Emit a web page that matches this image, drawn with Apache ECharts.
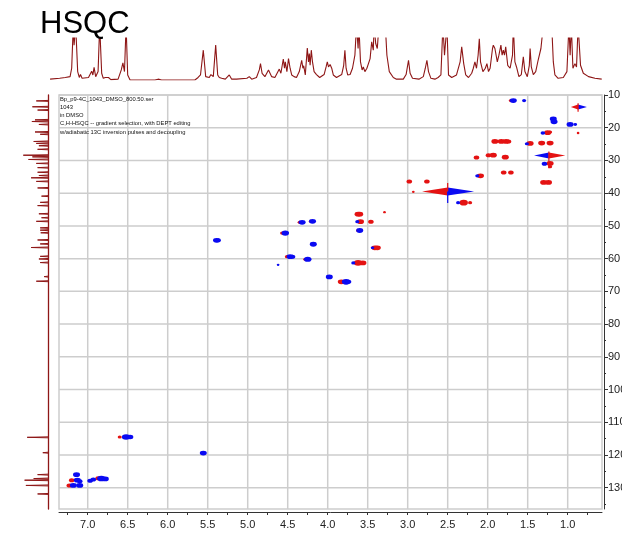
<!DOCTYPE html>
<html><head><meta charset="utf-8">
<script src="https://cdn.jsdelivr.net/npm/echarts@6/dist/echarts.min.js"></script>
<style>html,body{margin:0;padding:0;background:#fff}#c{width:622px;height:535px}</style>
</head><body><div id="c"></div>
<script>
// ---- tick labels ----
const hTickLabels = [1.0,1.5,2.0,2.5,3.0,3.5,4.0,4.5,5.0,5.5,6.0,6.5,7.0];
const hTicks = [0.75,1.0,1.25,1.5,1.75,2.0,2.25,2.5,2.75,3.0,3.25,3.5,3.75,4.0,4.25,4.5,4.75,5.0,5.25,5.5,5.75,6.0,6.25,6.5,6.75,7.0,7.25];
const cTickLabels = [10,20,30,40,50,60,70,80,90,100,110,120,130];
const cMinorTicks = [15,25,35,45,55,65,75,85,95,105,115,125,135];
const infoLines = ["Bp_p9-4C_1043_DMSO_800.50.ser","1043","in DMSO","C,H-HSQC -- gradient selection, with DEPT editing","w/adiabatic 13C inversion pulses and decoupling"];

// ---- 1H projection (ppm, intensity) ----
const topTrace = [[7.47,2],[7.35,4],[7.28,6],[7.22,8],[7.20,28],[7.18,130],[7.17,83],[7.15,130],[7.125,20],[7.105,6],[7.09,13],[7.07,4],[6.99,6],[6.95,21],[6.935,12],[6.92,30],[6.90,8],[6.87,20],[6.85,130],[6.825,16],[6.805,4],[6.78,6],[6.76,2],[6.74,6],[6.71,1],[6.62,2],[6.58,24],[6.56,41],[6.54,20],[6.52,130],[6.50,12],[6.47,0],[6.16,0],[6.12,2],[6.075,0],[5.66,0],[5.62,6],[5.59,12],[5.555,71],[5.525,8],[5.48,6],[5.46,13],[5.43,8],[5.40,83],[5.375,12],[5.355,6],[5.325,4],[5.28,2],[5.23,12],[5.20,2],[5.14,2],[5.01,4],[4.98,8],[4.95,2],[4.89,6],[4.855,24],[4.84,39],[4.82,16],[4.785,8],[4.74,24],[4.70,8],[4.66,6],[4.605,26],[4.585,16],[4.555,50],[4.54,28],[4.53,43],[4.51,20],[4.49,51],[4.47,28],[4.45,12],[4.42,8],[4.39,6],[4.355,20],[4.325,47],[4.31,28],[4.30,34],[4.28,12],[4.255,76],[4.24,43],[4.23,63],[4.22,35],[4.205,71],[4.19,43],[4.17,20],[4.14,13],[4.10,6],[4.045,13],[4.02,31],[4.005,43],[3.99,31],[3.97,37],[3.95,28],[3.93,12],[3.89,6],[3.825,13],[3.80,35],[3.785,71],[3.77,28],[3.75,12],[3.72,13],[3.69,28],[3.66,59],[3.64,130],[3.62,75],[3.61,130],[3.59,43],[3.57,24],[3.555,31],[3.535,20],[3.51,28],[3.49,24],[3.47,51],[3.45,91],[3.43,71],[3.42,130],[3.40,87],[3.38,75],[3.36,130],[3.28,130],[3.26,59],[3.23,20],[3.18,6],[3.14,2],[3.055,2],[3.02,13],[2.99,47],[2.97,16],[2.94,4],[2.86,2],[2.805,8],[2.78,28],[2.76,47],[2.74,20],[2.71,4],[2.66,2],[2.62,6],[2.585,12],[2.56,130],[2.54,59],[2.51,130],[2.49,12],[2.45,6],[2.39,12],[2.345,43],[2.325,79],[2.30,39],[2.275,12],[2.24,6],[2.20,16],[2.18,28],[2.16,43],[2.14,28],[2.12,59],[2.105,98],[2.09,43],[2.06,20],[2.03,28],[2.01,39],[1.99,20],[1.97,28],[1.94,75],[1.93,83],[1.91,75],[1.88,43],[1.86,59],[1.835,83],[1.82,59],[1.805,71],[1.79,59],[1.775,79],[1.75,35],[1.72,28],[1.69,59],[1.68,130],[1.66,43],[1.64,31],[1.61,8],[1.58,13],[1.555,55],[1.535,20],[1.505,8],[1.48,35],[1.47,75],[1.455,31],[1.43,13],[1.40,20],[1.37,47],[1.335,75],[1.305,130],[1.20,130],[1.18,43],[1.16,12],[1.12,4],[1.055,6],[1.01,20],[0.985,130],[0.97,59],[0.955,130],[0.935,28],[0.91,39],[0.89,31],[0.87,130],[0.84,35],[0.805,16],[0.74,8],[0.66,4],[0.575,2]];

// ---- 13C projection peaks (ppm, intensity) ----
const sidePeaks = [[11.8,45],[13.6,60],[14.6,40],[17.6,50],[18.1,62],[19.0,35],[21.3,50],[22.0,30],[24.2,55],[24.8,45],[25.5,35],[26.6,40],[28.4,95],[28.9,60],[29.7,75],[30.9,45],[32.2,40],[33.6,40],[34.6,35],[35.3,65],[36.4,45],[38.4,40],[40.9,25],[42.8,30],[43.8,40],[46.3,35],[47.5,25],[48.6,45],[50.6,30],[51.3,30],[52.1,28],[54.3,40],[55.5,30],[56.6,65],[59.3,30],[60.1,35],[61.2,30],[65.5,15],[66.9,45],[114.6,80],[119.3,20],[126.0,40],[127.2,55],[127.7,90],[129.3,85],[131.9,40]];

// ---- cross peaks [1H ppm, 13C ppm, intensity] ----
const posPeaks = [[1.71,11.7,1],[1.25,21.5,2],[1.22,21.3,1],[1.47,24.8,2],[1.22,30.9,2],[1.22,31.9,1],[2.09,34.7,2],[2.30,42.9,2.5],[2.22,42.9,1],[3.59,48.7,2],[3.62,51.4,1],[4.21,48.6,1],[4.35,48.9,1],[4.57,52.2,1],[3.41,56.7,2],[3.38,56.7,2],[4.51,59.4,1],[4.28,60.2,1],[3.62,61.3,2.5],[3.56,61.3,2],[3.83,67.1,2],[6.60,114.5,1],[7.20,127.7,1.5],[7.23,129.3,1.5],[6.87,127.1,1.5],[1.91,24.2,2],[1.83,24.2,2],[1.77,24.2,2],[1.74,24.2,1.5],[1.325,24.7,2],[1.22,24.7,2],[2.14,29.1,1.5],[1.99,28.4,1.5],[1.93,28.4,2],[1.78,29.0,2],[1.80,33.7,1.5],[1.71,33.7,1.5],[1.30,36.7,2],[1.24,36.7,2],[2.98,36.4,1.5],[2.76,36.4,1.5],[2.93,39.6,0.5],[3.62,46.4,2],[3.60,46.4,2],[3.29,45.8,0.5],[3.46,48.7,1.5],[0.87,21.6,0.5]];
const negPeaks = [[1.68,11.7,2],[1.545,11.7,1],[1.18,17.3,2],[1.17,18.2,2],[0.97,19.0,2],[0.905,19.0,0.8],[1.31,21.6,1.2],[1.51,24.9,1],[1.29,31.0,1.5],[2.13,34.7,1],[2.37,42.9,1],[3.63,48.7,1],[3.60,51.4,2],[4.19,48.6,2],[4.32,48.9,2],[4.53,52.2,2.2],[5.39,54.4,2],[5.37,54.4,1.5],[4.18,55.6,2],[3.44,56.7,0.8],[4.47,59.4,2],[4.44,59.4,1.5],[4.25,60.2,2.2],[4.62,61.9,0.5],[3.98,65.6,2],[3.68,61.3,1],[3.77,67.1,2.5],[3.74,67.1,1.5],[6.52,114.5,2.5],[6.47,114.5,1.8],[5.555,119.4,2],[7.14,126.0,2],[7.13,127.7,2],[7.10,128.0,1.5],[7.18,129.3,2],[7.10,129.3,2],[6.97,127.9,1.5],[6.93,127.5,1.5],[6.83,127.2,2.5],[6.78,127.3,2]];
// ridges [1H from, 1H to, 13C, intensity]
const posRidges = [[2.82,2.50,39.5,4],[1.03,1.235,28.5,3],[0.96,0.87,13.7,2.5]];
const negRidges = [[2.17,2.50,39.5,4],[1.42,1.235,28.5,3],[0.76,0.87,13.7,2.5]];
// vertical streaks [1H, 13C from, 13C to]
const posStreaks = [[2.50,36.9,39.5],[1.235,27.3,32.4],[0.87,12.5,15.1]];
const negStreaks = [[2.50,39.5,43.0]];

const H_MIN = 0.571, H_MAX = 7.359, C_MIN = 10, C_MAX = 136.5;
const RED = '#e41212', BLUE = '#0a0af2', TRACE = '#8e1616', GRIDC = '#cdcdcd';
const FONT = '"Liberation Sans", Arial, sans-serif';

const chart = echarts.init(document.getElementById('c'), null, {renderer: 'canvas'});

function ridgeRender(color){
  return function(params, api){
    const a = api.coord([api.value(0), api.value(2)]);
    const b = api.coord([api.value(1), api.value(2)]);
    const hw = api.value(3);
    return {type:'polygon', shape:{points:[a,[b[0],b[1]-hw],[b[0],b[1]+hw]]}, style:{fill:color}};
  };
}
function streakRender(color){
  return function(params, api){
    const a = api.coord([api.value(0), api.value(1)]);
    const b = api.coord([api.value(0), api.value(2)]);
    return {type:'line', shape:{x1:a[0],y1:a[1],x2:b[0],y2:b[1]}, style:{stroke:color, lineWidth:1.2}};
  };
}
const sizeFn = v => [1.2 + 2.9*v[2], 1.6 + 1.6*v[2]];

chart.setOption({
  animation: false,
  backgroundColor: '#fff',
  title: {text: 'HSQC', left: 35, top: 4, textStyle: {fontSize: 31, fontWeight: 'normal', color: '#000', fontFamily: FONT}},
  graphic: [{type:'text', left: 60, top: 95, z: 10, style:{text: infoLines.join('\n'), fontSize: 5.8, fontFamily: '"Liberation Sans Narrow","Liberation Sans",Arial', fill:'#111', lineHeight: 8.2}}],
  grid: [
    {left: 59, right: 20, top: 95, bottom: 26, show: true, borderColor: GRIDC, borderWidth: 1.5, backgroundColor: '#fff', outerBoundsMode: 'none'},
    {left: 50, width: 555, top: 38, height: 42, outerBoundsMode: 'none'},
    {left: 22, width: 26, top: 95, bottom: 26, outerBoundsMode: 'none'}
  ],
  xAxis: [
    {gridIndex: 0, type: 'value', min: H_MIN, max: H_MAX, inverse: true, position: 'bottom', offset: 3,
     axisLine: {show: true, lineStyle: {color: '#333', width: 1}},
     axisTick: {show: true, customValues: hTicks, length: 3, lineStyle: {color: '#333'}},
     axisLabel: {customValues: hTickLabels, formatter: v => v.toFixed(1), margin: 7, color: '#222', fontSize: 11, fontFamily: FONT},
     splitLine: {show: false}},
    {gridIndex: 1, type: 'value', min: 0.534, max: 7.471, inverse: true, show: false},
    {gridIndex: 2, type: 'value', min: 0, max: 100, inverse: true, show: false}
  ],
  yAxis: [
    {gridIndex: 0, type: 'value', min: C_MIN, max: C_MAX, inverse: true, position: 'right', offset: 2,
     axisLine: {show: true, lineStyle: {color: '#333', width: 1}},
     axisTick: {show: true, customValues: cTickLabels, length: 4, lineStyle: {color: '#333'}},
     axisLabel: {customValues: cTickLabels, margin: 4, color: '#222', fontSize: 11, fontFamily: FONT},
     splitLine: {show: false}},
    {gridIndex: 0, type: 'value', min: C_MIN, max: C_MAX, inverse: true, position: 'right', offset: 2,
     axisLine: {show: false},
     axisTick: {show: true, customValues: cMinorTicks, length: 2, lineStyle: {color: '#333'}},
     axisLabel: {show: false}, splitLine: {show: false}},
    {gridIndex: 1, type: 'value', min: 0, max: 100, show: false},
    {gridIndex: 2, type: 'value', min: C_MIN, max: C_MAX, inverse: true, position: 'right',
     axisLine: {show: true, lineStyle: {color: TRACE, width: 1.3}},
     axisTick: {show: false}, axisLabel: {show: false}, splitLine: {show: false}}
  ],
  series: [
    {type: 'custom', xAxisIndex: 0, yAxisIndex: 0, z: 1, silent: true,
     data: hTickLabels.map(v => [v, C_MIN]),
     renderItem: (p, api) => { const a = api.coord([api.value(0), C_MIN]), b = api.coord([api.value(0), C_MAX]);
       return {type:'line', shape:{x1:a[0],y1:a[1],x2:b[0],y2:b[1]}, style:{stroke: GRIDC, lineWidth: 1.5}}; }},
    {type: 'custom', xAxisIndex: 0, yAxisIndex: 0, z: 1, silent: true,
     data: cTickLabels.map(v => [H_MIN, v]),
     renderItem: (p, api) => { const a = api.coord([H_MIN, api.value(1)]), b = api.coord([H_MAX, api.value(1)]);
       return {type:'line', shape:{x1:a[0],y1:a[1],x2:b[0],y2:b[1]}, style:{stroke: GRIDC, lineWidth: 1.5}}; }},
    {type: 'custom', xAxisIndex: 0, yAxisIndex: 0, z: 3, data: posRidges, renderItem: ridgeRender(RED)},
    {type: 'custom', xAxisIndex: 0, yAxisIndex: 0, z: 3, data: negRidges, renderItem: ridgeRender(BLUE)},
    {type: 'custom', xAxisIndex: 0, yAxisIndex: 0, z: 3, data: posStreaks, renderItem: streakRender(RED)},
    {type: 'custom', xAxisIndex: 0, yAxisIndex: 0, z: 3, data: negStreaks, renderItem: streakRender(BLUE)},
    {type: 'scatter', xAxisIndex: 0, yAxisIndex: 0, z: 4, data: posPeaks, symbol: 'circle', symbolSize: sizeFn, itemStyle: {color: RED, opacity: 1}},
    {type: 'scatter', xAxisIndex: 0, yAxisIndex: 0, z: 5, data: negPeaks, symbol: 'circle', symbolSize: sizeFn, itemStyle: {color: BLUE, opacity: 1}},
    {type: 'line', xAxisIndex: 1, yAxisIndex: 2, data: topTrace, showSymbol: false, clip: true,
     lineStyle: {color: TRACE, width: 1.1}},
    {type: 'custom', xAxisIndex: 2, yAxisIndex: 3, data: sidePeaks.map(p => [p[1], p[0]]),
     renderItem: (p, api) => { const h = api.value(0), c = api.value(1);
       const a = api.coord([0, c - 0.15]), t = api.coord([h, c]), b = api.coord([0, c + 0.15]);
       return {type:'polyline', shape:{points:[a, t, b]}, style:{stroke: TRACE, lineWidth: 1, fill: null}}; }}
  ]
});
</script>
</body></html>
